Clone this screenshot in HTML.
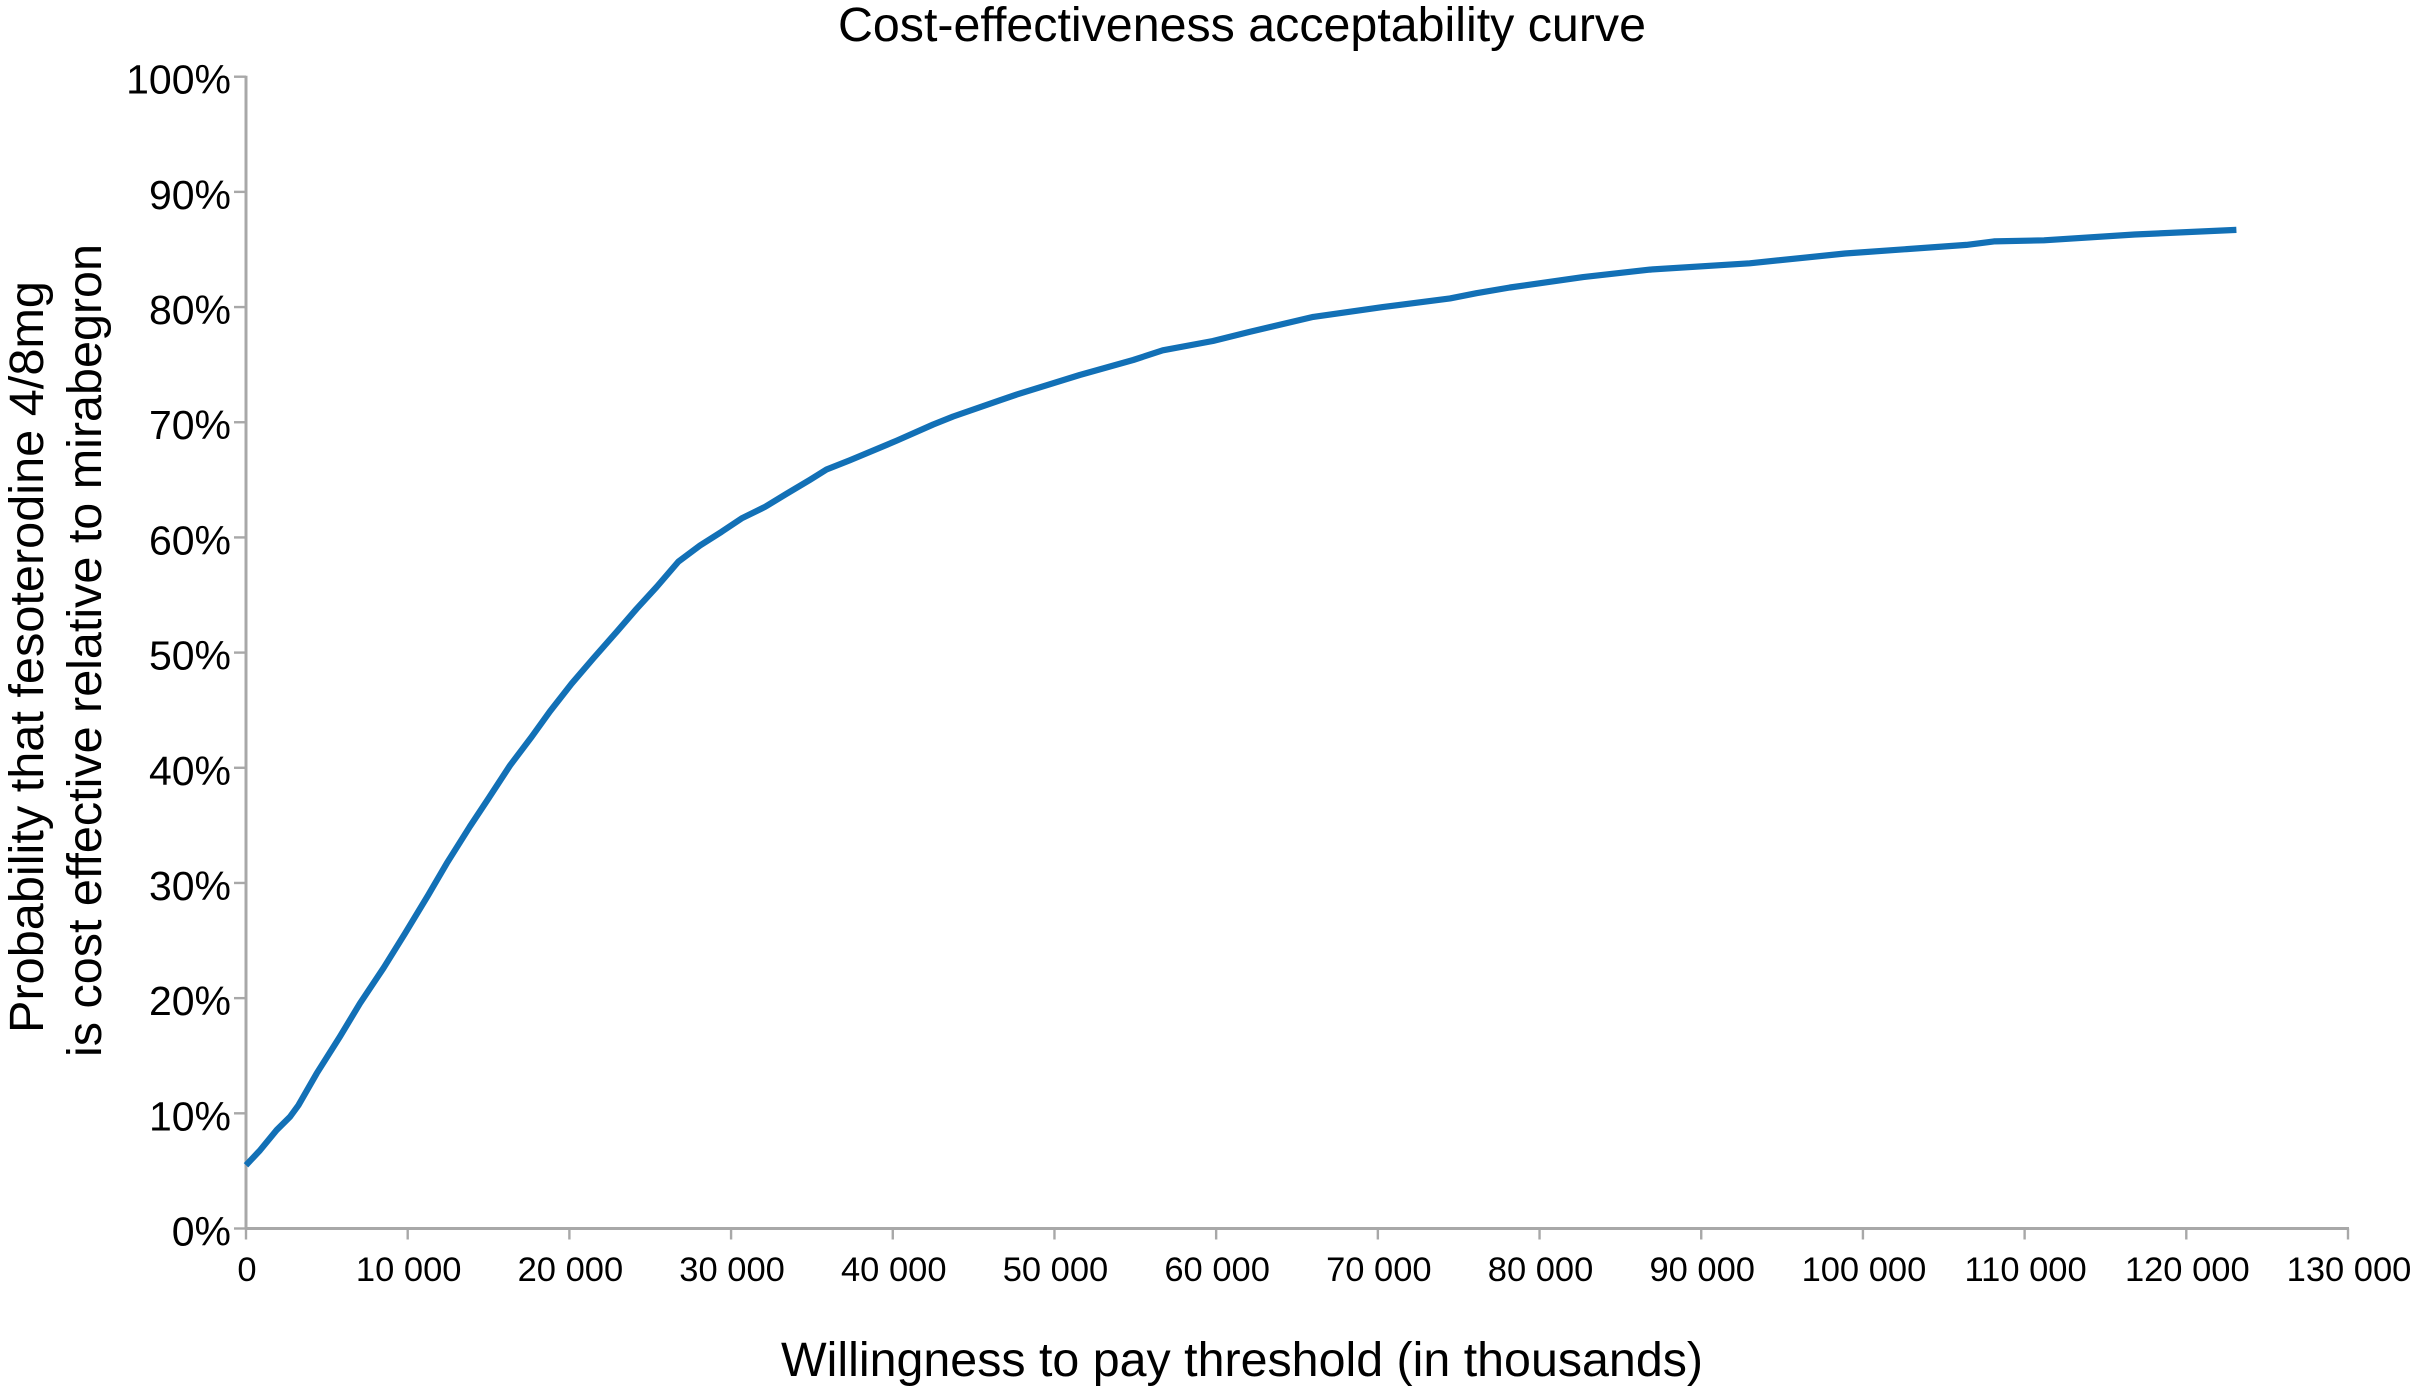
<!DOCTYPE html>
<html lang="en">
<head>
<meta charset="utf-8">
<title>Cost-effectiveness acceptability curve</title>
<style>
html,body{margin:0;padding:0;background:#fff;width:2410px;height:1388px;overflow:hidden}
svg{display:block}
text{font-family:"Liberation Sans",Arial,sans-serif;fill:#000}
</style>
</head>
<body>
<svg id="chart" xmlns="http://www.w3.org/2000/svg" width="2410" height="1388" viewBox="0 0 2410 1388">
  <rect x="0" y="0" width="2410" height="1388" fill="#ffffff"/>
  <text x="1242" y="41" font-size="48" text-anchor="middle" textLength="808" lengthAdjust="spacingAndGlyphs">Cost-effectiveness acceptability curve</text>
  <text x="1242" y="1376" font-size="48" text-anchor="middle" textLength="922" lengthAdjust="spacingAndGlyphs">Willingness to pay threshold (in thousands)</text>
  <text transform="translate(43,657) rotate(-90)" font-size="48" text-anchor="middle" textLength="752" lengthAdjust="spacingAndGlyphs">Probability that fesoterodine 4/8mg</text>
  <text transform="translate(101,650.5) rotate(-90)" font-size="48" text-anchor="middle" textLength="813" lengthAdjust="spacingAndGlyphs">is cost effective relative to mirabegron</text>
  <g id="axes"></g>
  <g id="series"></g>
</svg>
<script>
const xTickValues = [0, 10000, 20000, 30000, 40000, 50000, 60000, 70000, 80000, 90000, 100000, 110000, 120000, 130000];
const xTickLabels = ["0", "10 000", "20 000", "30 000", "40 000", "50 000", "60 000", "70 000", "80 000", "90 000", "100 000", "110 000", "120 000", "130 000"];
const yTickValues = [0, 10, 20, 30, 40, 50, 60, 70, 80, 90, 100];
const yTickLabels = ["0%", "10%", "20%", "30%", "40%", "50%", "60%", "70%", "80%", "90%", "100%"];
const thresholds = [0, 870, 1900, 2720, 3240, 4370, 5810, 7050, 8490, 9830, 11270, 12410, 13850, 14980, 16330, 17670, 18800, 20140, 21480, 22920, 24160, 25400, 26740, 28080, 29420, 30650, 32100, 33440, 34880, 35900, 37350, 40240, 42500, 43740, 46600, 47660, 51560, 54870, 56700, 59800, 62100, 66000, 70300, 74460, 76100, 78170, 82700, 86830, 93000, 98900, 106400, 108100, 111200, 116800, 123100];
const probabilities = [5.5, 6.8, 8.55, 9.7, 10.7, 13.47, 16.65, 19.55, 22.58, 25.6, 28.95, 31.7, 34.9, 37.3, 40.2, 42.7, 44.9, 47.3, 49.5, 51.8, 53.8, 55.7, 57.9, 59.3, 60.5, 61.65, 62.65, 63.8, 65.0, 65.9, 66.7, 68.4, 69.8, 70.5, 71.9, 72.4, 74.1, 75.4, 76.25, 77.05, 77.85, 79.15, 80.0, 80.75, 81.2, 81.7, 82.6, 83.25, 83.8, 84.65, 85.4, 85.7, 85.8, 86.3, 86.7];

const NS = 'http://www.w3.org/2000/svg';
const X0 = 246, X1 = 2348, Y0 = 1228.5, Y100 = 76.7;
const AXIS_COLOR = '#a8a8a8';
function xScale(v) { return X0 + (v / 130000) * (X1 - X0); }
function yScale(p) { return Y0 + (p / 100) * (Y100 - Y0); }

const axes = document.getElementById('axes');
const series = document.getElementById('series');

function makeLine(x1, y1, x2, y2, width) {
  const l = document.createElementNS(NS, 'line');
  l.setAttribute('x1', x1);
  l.setAttribute('y1', y1);
  l.setAttribute('x2', x2);
  l.setAttribute('y2', y2);
  l.setAttribute('stroke', AXIS_COLOR);
  l.setAttribute('stroke-width', width);
  return l;
}

const yAxisLine = makeLine(X0, yScale(100) - 1, X0, yScale(0) + 1, 3);


axes.appendChild(yAxisLine);

const xAxisLine = makeLine(X0 - 1, yScale(0), xScale(130000) + 1, yScale(0), 3);


axes.appendChild(xAxisLine);

yTickValues.forEach(function (v, i) {
  const y = yScale(v);
  const tick = makeLine(X0 - 12, y, X0, y, 2.4);
  
  
  axes.appendChild(tick);
  const label = document.createElementNS(NS, 'text');
  
  
  label.setAttribute('x', 231);
  label.setAttribute('y', y + 17);
  label.setAttribute('font-size', 41);
  label.setAttribute('text-anchor', 'end');
  label.textContent = yTickLabels[i];
  axes.appendChild(label);
});

xTickValues.forEach(function (v, i) {
  const x = xScale(v);
  const tick = makeLine(x, Y0, x, Y0 + 11, 2.4);
  
  
  axes.appendChild(tick);
  const label = document.createElementNS(NS, 'text');
  
  
  label.setAttribute('x', x + 1);
  label.setAttribute('y', 1281);
  label.setAttribute('font-size', 34.5);
  label.setAttribute('text-anchor', 'middle');
  label.textContent = xTickLabels[i];
  axes.appendChild(label);
});

const curve = document.createElementNS(NS, 'polyline');


curve.setAttribute('fill', 'none');
curve.setAttribute('stroke', '#1270b6');
curve.setAttribute('stroke-width', '6.2');
curve.setAttribute('stroke-linejoin', 'round');
curve.setAttribute('points', thresholds.map(function (t, i) {
  return xScale(t).toFixed(1) + ',' + yScale(probabilities[i]).toFixed(1);
}).join(' '));
series.appendChild(curve);
</script>
</body>
</html>
